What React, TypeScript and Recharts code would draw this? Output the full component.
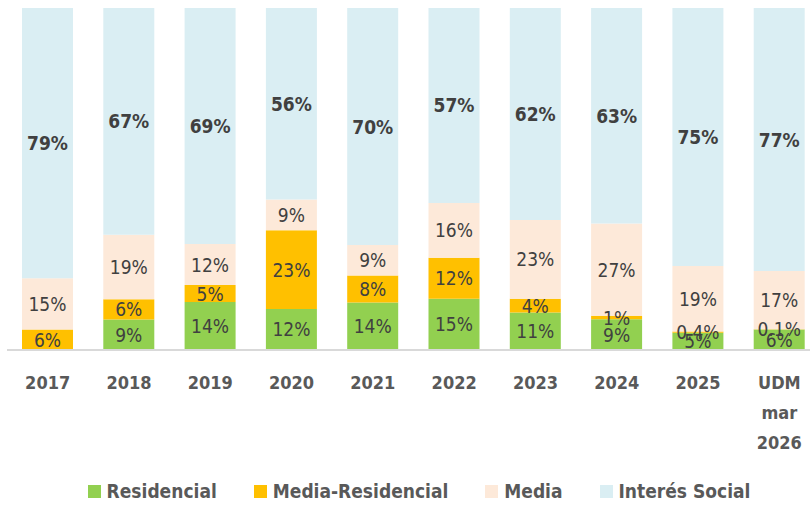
import { BarChart, Bar, XAxis, YAxis, Legend, LabelList } from 'recharts';

const years = ['2017', '2018', '2019', '2020', '2021', '2022', '2023', '2024', '2025', 'UDM mar 2026'];
const residencial = [0, 9, 14, 12, 14, 15, 11, 9, 5, 6];
const mediaResidencial = [6, 6, 5, 23, 8, 12, 4, 1, 0.4, 0.1];
const media = [15, 19, 12, 9, 9, 16, 23, 27, 19, 17];
const interesSocial = [79, 67, 69, 56, 70, 57, 62, 63, 75, 77];

const data = years.map((y, i) => ({
    name: y,
    res: residencial[i],
    medRes: mediaResidencial[i],
    med: media[i],
    social: interesSocial[i],
}));

const series = [
    { key: 'res', name: 'Residencial', color: '#92D050' },
    { key: 'medRes', name: 'Media-Residencial', color: '#FFC000' },
    { key: 'med', name: 'Media', color: '#FDE9D9' },
    { key: 'social', name: 'Interés Social', color: '#DAEEF3' },
];

const FONT = "'Liberation Sans Narrow', 'DejaVu Sans Condensed', sans-serif";

const makeLabel = (bold: boolean) => (props: any) => {
    const { x, y, width, height, value } = props;
    if (!value) return null;
    return (
        <text
            x={x + width / 2}
            y={y + height / 2}
            textAnchor="middle"
            dominantBaseline="central"
            fill="#404040"
            fontSize={19}
            fontWeight={bold ? 'bold' : 'normal'}
            fontFamily={FONT}
        >
            {value + '%'}
        </text>
    );
};

const YearTick = (props: any) => {
    const { x, y, payload } = props;
    const lines = payload.value === 'UDM mar 2026' ? ['UDM', 'mar', '2026'] : [payload.value];
    return (
        <text x={x} y={y} textAnchor="middle" fill="#595959" fontSize={18} fontWeight="bold" fontFamily={FONT}>
            {lines.map((l: string, i: number) => (
                <tspan key={i} x={x} dy={i === 0 ? 31 : 30}>{l}</tspan>
            ))}
        </text>
    );
};

const LegendContent = () => (
    <div style={{ display: 'flex', justifyContent: 'center', fontFamily: FONT, fontSize: 19, fontWeight: 'bold', color: '#595959', paddingLeft: 48 }}>
        {series.map((s) => (
            <span key={s.key} style={{ display: 'inline-flex', alignItems: 'center', marginRight: 37 }}>
                <span style={{ display: 'inline-block', width: 13, height: 13, background: s.color, marginRight: 6 }} />
                {s.name}
            </span>
        ))}
    </div>
);

export default function App() {
    return (
        <div style={{ position: 'absolute', left: 0, top: 0, width: 810, height: 505, overflow: 'hidden', background: '#fff' }}>
            <BarChart
                width={820}
                height={505}
                data={data}
                stackOffset="expand"
                barSize={51}
                margin={{ top: 8, right: 0, left: 7, bottom: 0 }}
            >
                <XAxis
                    dataKey="name"
                    interval={0}
                    tickLine={false}
                    axisLine={{ stroke: '#D9D9D9', strokeWidth: 2 }}
                    tick={<YearTick />}
                    height={130}
                />
                <YAxis hide domain={[0, 1]} />
                <Legend verticalAlign="bottom" height={25} content={<LegendContent />} />
                {series.map((s) => (
                    <Bar key={s.key} dataKey={s.key} name={s.name} stackId="a" fill={s.color} isAnimationActive={false}>
                        <LabelList dataKey={s.key} content={makeLabel(s.key === 'social')} />
                    </Bar>
                ))}
            </BarChart>
        </div>
    );
}
